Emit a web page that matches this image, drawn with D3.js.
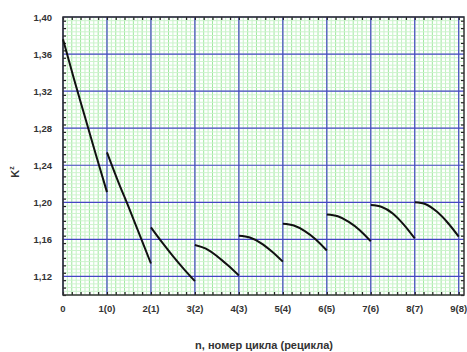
<!DOCTYPE html>
<html><head><meta charset="utf-8">
<script src="https://cdn.jsdelivr.net/npm/d3@7/dist/d3.min.js"></script>
<style>body{margin:0;background:#fff}svg{display:block}text{font-family:"Liberation Sans",Arial,sans-serif;font-weight:bold;fill:#333}</style>
</head><body>
<script>
const xTickValues = [0,1,2,3,4,5,6,7,8,9];
const xTickLabels = ["0","1(0)","2(1)","3(2)","4(3)","5(4)","6(5)","7(6)","8(7)","9(8)"];
const yTickValues = [1.12,1.16,1.20,1.24,1.28,1.32,1.36,1.40];
const yTickLabels = ["1,12","1,16","1,20","1,24","1,28","1,32","1,36","1,40"];
const seg1 = [[0,1.376],[0.25,1.333],[0.5,1.292],[0.75,1.251],[1,1.211]];
const seg2 = [[1,1.254],[1.25,1.223],[1.5,1.194],[1.75,1.164],[2,1.134]];
const seg3 = [[2,1.173],[2.25,1.157],[2.5,1.142],[2.75,1.128],[3,1.115]];
const seg4 = [[3,1.154],[3.25,1.150],[3.5,1.142],[3.75,1.132],[4,1.121]];
const seg5 = [[4,1.164],[4.25,1.162],[4.5,1.156],[4.75,1.147],[5,1.136]];
const seg6 = [[5,1.177],[5.25,1.175],[5.5,1.169],[5.75,1.160],[6,1.148]];
const seg7 = [[6,1.187],[6.25,1.185],[6.5,1.179],[6.75,1.170],[7,1.158]];
const seg8 = [[7,1.197],[7.25,1.195],[7.5,1.188],[7.75,1.176],[8,1.161]];
const seg9 = [[8,1.200],[8.25,1.198],[8.5,1.190],[8.75,1.178],[9,1.163]];
const segments = [seg1,seg2,seg3,seg4,seg5,seg6,seg7,seg8,seg9];

const W=467,H=352, L=63, R=464, T=17, B=295;
const x = d3.scaleLinear().domain([0,9.12]).range([L,R]);
const y = d3.scaleLinear().domain([1.10,1.40]).range([B,T]);
const svg = d3.select("body").append("svg").attr("width",W).attr("height",H);

// minor green grid
const gx = d3.range(0,91).map(i=>i/10).filter(v=>v<=9.12);
const gy = d3.range(0,76).map(i=>1.10+i*0.004).filter(v=>v<=1.4001);
svg.append("g").selectAll("line").data(gx).join("line")
  .attr("x1",d=>x(d)).attr("x2",d=>x(d)).attr("y1",T).attr("y2",B)
  .attr("stroke",(d,i)=>i%2===0?"#9ee89e":"#c4f2c4").attr("stroke-width",1);
svg.append("g").selectAll("line").data(gy).join("line")
  .attr("x1",L).attr("x2",R).attr("y1",d=>y(d)).attr("y2",d=>y(d))
  .attr("stroke","#cdf3cd").attr("stroke-width",1);
// major blue grid
svg.append("g").selectAll("line").data(xTickValues).join("line")
  .attr("x1",d=>x(d)).attr("x2",d=>x(d)).attr("y1",T).attr("y2",B)
  .attr("stroke","#4646c4").attr("stroke-width",1.2);
svg.append("g").selectAll("line").data(yTickValues).join("line")
  .attr("x1",L).attr("x2",R).attr("y1",d=>y(d)).attr("y2",d=>y(d))
  .attr("stroke","#4646c4").attr("stroke-width",1.2);

// inward ticks via axes
const xt = d3.range(0,46).map(i=>i*0.2).filter(v=>v<=9.12);
const yt = d3.range(0,38).map(i=>1.10+i*0.008).filter(v=>v<=1.4001);
svg.append("g").attr("transform",`translate(0,${B})`).call(d3.axisTop(x).tickValues(xt).tickSize(3).tickFormat(""))
  .call(g=>g.select(".domain").remove()).selectAll("line").attr("stroke","#222").attr("stroke-width",1.2);
svg.append("g").attr("transform",`translate(0,${T})`).call(d3.axisBottom(x).tickValues(xt).tickSize(3).tickFormat(""))
  .call(g=>g.select(".domain").remove()).selectAll("line").attr("stroke","#222").attr("stroke-width",1.2);
svg.append("g").attr("transform",`translate(${L},0)`).call(d3.axisRight(y).tickValues(yt).tickSize(3).tickFormat(""))
  .call(g=>g.select(".domain").remove()).selectAll("line").attr("stroke","#222").attr("stroke-width",1.2);
svg.append("g").attr("transform",`translate(${R},0)`).call(d3.axisLeft(y).tickValues(yt).tickSize(3).tickFormat(""))
  .call(g=>g.select(".domain").remove()).selectAll("line").attr("stroke","#222").attr("stroke-width",1.2);

// frame
svg.append("rect").attr("x",L).attr("y",T).attr("width",R-L).attr("height",B-T)
  .attr("fill","none").attr("stroke","#333").attr("stroke-width",1.5);

// curves
const line = d3.line().x(d=>x(d[0])).y(d=>y(d[1])).curve(d3.curveMonotoneX);
svg.append("g").selectAll("path").data(segments).join("path")
  .attr("d",line).attr("fill","none").attr("stroke","#111").attr("stroke-width",2);

// tick labels
svg.append("g").selectAll("text").data(yTickValues).join("text")
  .attr("x",52).attr("y",d=>y(d)+3.5).attr("text-anchor","end").attr("font-size",9.5)
  .text((d,i)=>yTickLabels[i]);
svg.append("g").selectAll("text").data(xTickValues).join("text")
  .attr("x",d=>x(d)).attr("y",312).attr("text-anchor","middle").attr("font-size",9.5)
  .text((d,i)=>xTickLabels[i]);

// axis titles
svg.append("text").attr("x",264).attr("y",349).attr("text-anchor","middle").attr("font-size",11)
  .text("n, номер цикла (рецикла)");
const yl = svg.append("text").attr("transform","translate(19,172) rotate(-90)").attr("text-anchor","middle").attr("font-size",11);
yl.append("tspan").text("K");
yl.append("tspan").attr("font-size",7).attr("dy",-5).text("z");
</script>
</body></html>
